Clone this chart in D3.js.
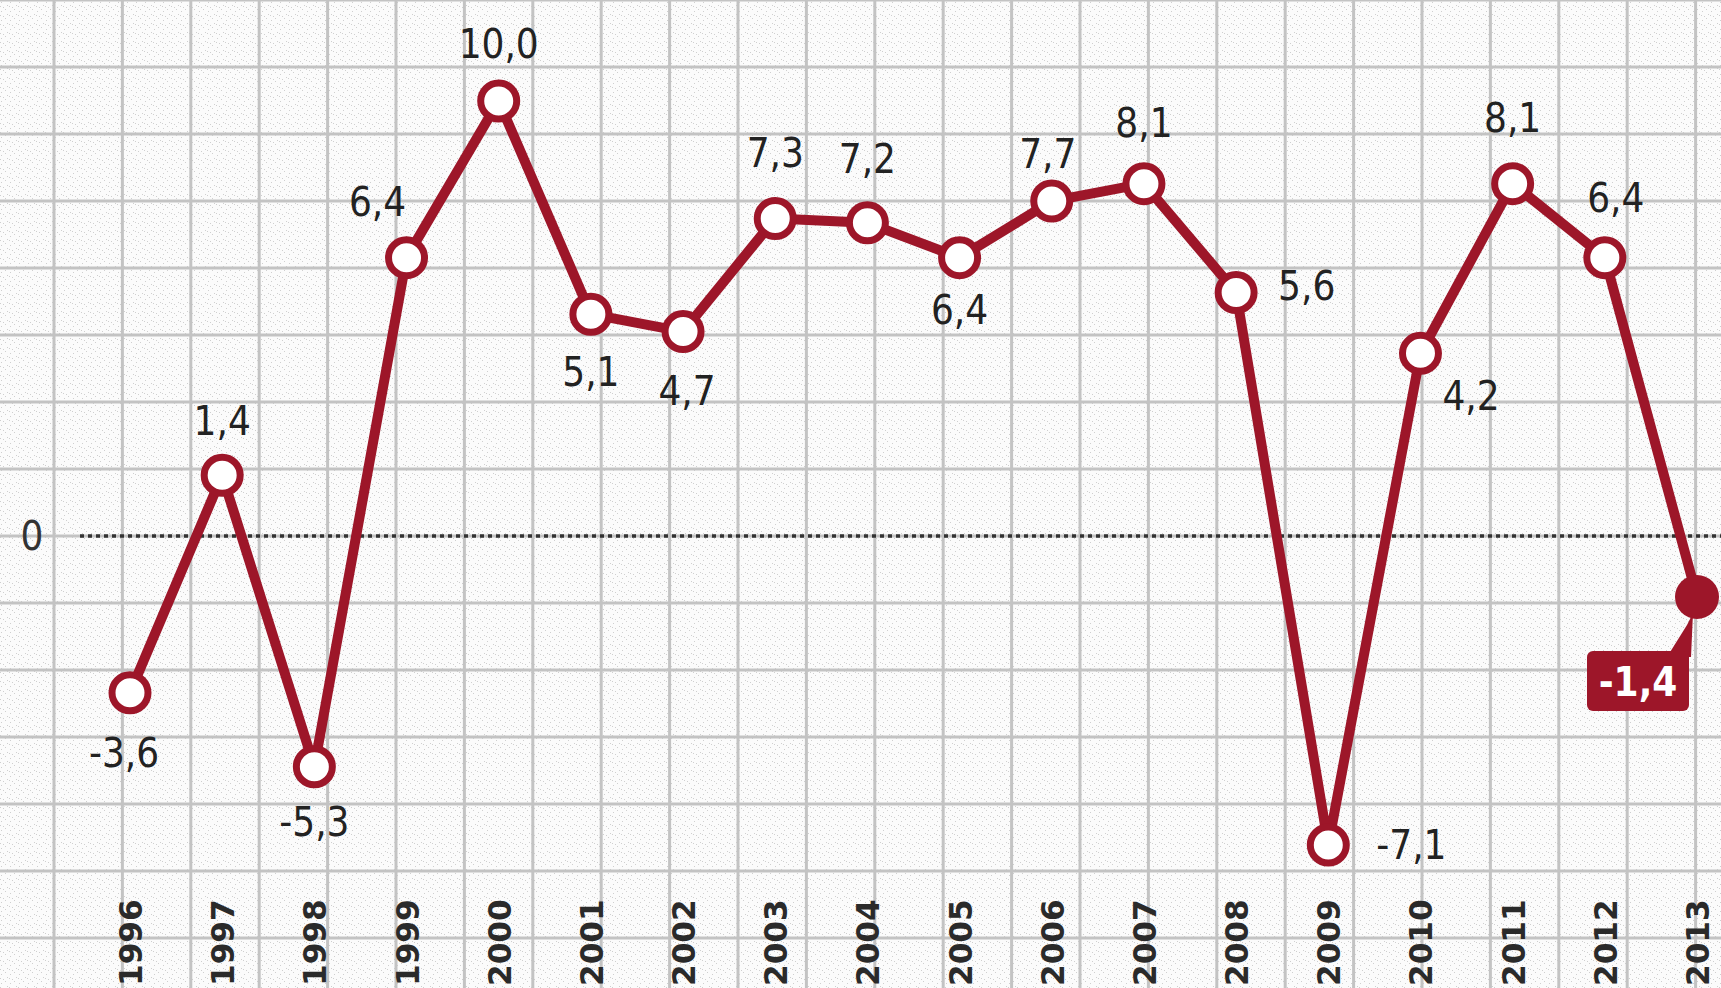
<!DOCTYPE html>
<html>
<head>
<meta charset="utf-8">
<script src="https://cdn.jsdelivr.net/npm/d3@7"></script>
<style>
  html, body { margin: 0; padding: 0; background: #fff; overflow: hidden; }
  svg { display: block; }
  .val { font-family: "Liberation Sans Narrow", "DejaVu Sans Condensed", sans-serif; font-size: 40px; fill: #222; }
  .year { font-family: "Liberation Sans Narrow", "DejaVu Sans Condensed", sans-serif; font-size: 32px; font-weight: bold; fill: #2a2a2a; }
</style>
</head>
<body>
<div id="chart"></div>
<script>
// --- data (GDP growth, % y/y) ---
const years = ["1996","1997","1998","1999","2000","2001","2002","2003","2004",
               "2005","2006","2007","2008","2009","2010","2011","2012","2013"];
const growth = [-3.6, 1.4, -5.3, 6.4, 10.0, 5.1, 4.7, 7.3, 7.2,
                6.4, 7.7, 8.1, 5.6, -7.1, 4.2, 8.1, 6.4, -1.4];

// label placement per point: [dx, dy, anchor]
const labelPos = [
  [-6, 60, "middle"], [0, -55, "middle"], [0, 55, "middle"], [-29, -56, "middle"],
  [0, -57, "middle"], [0, 57, "middle"], [4, 59, "middle"], [0, -66, "middle"],
  [0, -64, "middle"], [0, 52, "middle"], [-4, -47, "middle"], [0, -61, "middle"],
  [42, -7, "start"], [48, 0, "start"], [22, 42, "start"], [0, -66, "middle"],
  [11, -60, "middle"], null
];

const W = 1721, H = 988;
const RED = "#9d1629";

const fmt = d3.formatLocale({ decimal: ",", thousands: ".", grouping: [3], currency: ["", ""], minus: "-" }).format(".1f");

const svg = d3.select("#chart").append("svg").attr("width", W).attr("height", H);

// stippled paper
const defs = svg.append("defs");
const pat = defs.append("pattern").attr("id", "paper")
  .attr("width", 9).attr("height", 9).attr("patternUnits", "userSpaceOnUse");
pat.append("rect").attr("width", 9).attr("height", 9).attr("fill", "#fbfbfb");
[[1, 2], [5, 0], [7, 5], [3, 7], [0, 6]].forEach(([dx, dy]) =>
  pat.append("rect").attr("x", dx).attr("y", dy).attr("width", 1).attr("height", 1).attr("fill", "#cfcfcf"));
svg.append("rect").attr("width", W).attr("height", H).attr("fill", "url(#paper)");

const x = d3.scalePoint().domain(years).range([130, 1697]);
const y = d3.scaleLinear().domain([-7.1, 10]).range([845, 101]);

// square grid, anchored on the zero line
const gx = d3.range(54, W, 68.4);
const gy = d3.range(y(0) % 67, H, 67);
const grid = svg.append("g").attr("stroke", "#c3c3c3").attr("stroke-width", 3);
grid.selectAll("line.v").data(gx).join("line").attr("class", "v")
  .attr("x1", d => d).attr("x2", d => d).attr("y1", 0).attr("y2", H);
grid.selectAll("line.h").data(gy).join("line").attr("class", "h")
  .attr("x1", 0).attr("x2", W).attr("y1", d => d).attr("y2", d => d);

// zero line
svg.append("line")
  .attr("x1", 80).attr("x2", W).attr("y1", y(0)).attr("y2", y(0))
  .attr("stroke", "#333").attr("stroke-width", 3.5).attr("stroke-dasharray", "4,4");
svg.append("text").attr("class", "val")
  .attr("x", 32).attr("y", y(0)).attr("text-anchor", "middle").attr("dy", "0.36em")
  .style("fill", "#333").text("0");

// year labels
svg.append("g").selectAll("text").data(years).join("text")
  .attr("class", "year")
  .attr("transform", d => `translate(${x(d) + 12},986) rotate(-90) scale(1.08,1)`)
  .attr("text-anchor", "start")
  .text(d => d);

const pts = years.map((yr, i) => ({ yr, v: growth[i], i }));

// line
svg.append("path").datum(pts)
  .attr("fill", "none").attr("stroke", RED).attr("stroke-width", 10)
  .attr("stroke-linejoin", "round").attr("stroke-linecap", "round")
  .attr("d", d3.line().x(d => x(d.yr)).y(d => y(d.v)));

const last = pts[pts.length - 1];

// markers
svg.append("g").selectAll("circle").data(pts.slice(0, -1)).join("circle")
  .attr("cx", d => x(d.yr)).attr("cy", d => y(d.v)).attr("r", 18)
  .attr("fill", "#fff").attr("stroke", RED).attr("stroke-width", 7);
svg.append("circle").attr("cx", x(last.yr)).attr("cy", y(last.v)).attr("r", 22).attr("fill", RED);

// value labels
svg.append("g").selectAll("text").data(pts.filter(d => labelPos[d.i])).join("text")
  .attr("class", "val")
  .attr("x", d => x(d.yr) + labelPos[d.i][0])
  .attr("y", d => y(d.v) + labelPos[d.i][1])
  .attr("text-anchor", d => labelPos[d.i][2])
  .attr("dy", "0.36em")
  .text(d => fmt(d.v));

// callout for latest value
const cx = x(last.yr), cy = y(last.v);
const call = svg.append("g").attr("transform", `translate(${cx},${cy})`);
call.append("path")
  .attr("d", "M-30,60 L-10,28 L-4,16 L-6,60 Z")
  .attr("fill", RED);
call.append("rect").attr("x", -110).attr("y", 54).attr("width", 102).attr("height", 60)
  .attr("rx", 6).attr("fill", RED);
call.append("text").attr("class", "val")
  .attr("x", -59).attr("y", 85).attr("dy", "0.36em").attr("text-anchor", "middle")
  .style("fill", "#fff").style("font-weight", "bold")
  .text(fmt(last.v));
</script>
</body>
</html>
